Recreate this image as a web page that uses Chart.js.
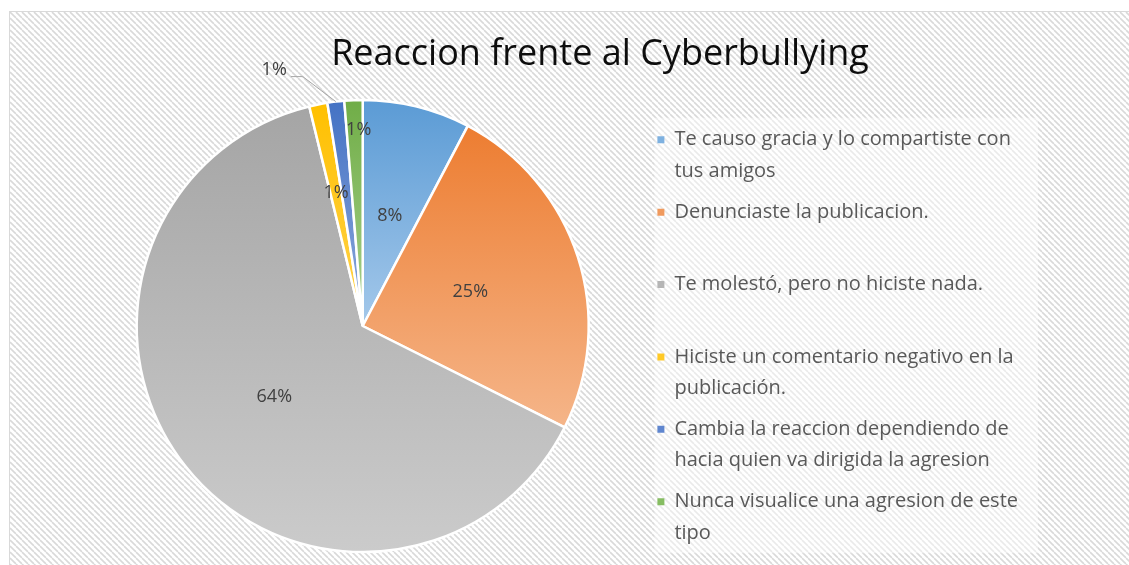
<!DOCTYPE html>
<html>
<head>
<meta charset="utf-8">
<script src="https://cdn.jsdelivr.net/npm/chart.js@4"></script>
<style>
  html, body { margin: 0; padding: 0; background: #fff; overflow: hidden; }
  #wrap { position: absolute; left: 9px; top: 11px; width: 1119px; height: 553px; border: 1px solid #d9d9d9; }
  #chart { display: block; }
</style>
</head>
<body>
<div id="wrap"><canvas id="chart" width="1119" height="553"></canvas></div>
<script>
// datos (porcentajes aproximados)
const categories = [
  "Te causo gracia y lo compartiste con\ntus amigos",
  "Denunciaste la publicacion.",
  "Te molestó, pero no hiciste nada.",
  "Hiciste un comentario negativo en la\npublicación.",
  "Cambia la reaccion dependiendo de\nhacia quien va dirigida la agresion",
  "Nunca visualice una agresion de este\ntipo"
];
const values = [7.7, 24.7, 63.8, 1.3, 1.2, 1.3];
const topColors = ["#5b9bd5", "#ed7d31", "#a5a5a5", "#ffc000", "#4472c4", "#70ad47"];
const bottomColors = ["#a4c8ea", "#f5b589", "#cbcbcb", "#ffd34d", "#8faadc", "#a9d18e"];
const legendColors = ["#7eb1e0", "#f09a5e", "#b5b5b5", "#ffc926", "#5f86cf", "#86bd62"];

// posicion de las etiquetas: fraccion del radio, o "out" para la llamada con linea
const labelPlacement = [0.5, 0.5, 0.5, 0.6, "out", 0.87];

// degradado vertical por porcion (como en Excel)
function sliceGradient(c) {
  const el = c.element;
  const i = c.dataIndex;
  if (!el || !el.outerRadius) return topColors[i];
  const { x, y, startAngle, endAngle, outerRadius } = el;
  let minY = y, maxY = y;
  for (let k = 0; k <= 40; k++) {
    const a = startAngle + (endAngle - startAngle) * k / 40;
    const py = y + Math.sin(a) * outerRadius;
    minY = Math.min(minY, py);
    maxY = Math.max(maxY, py);
  }
  const g = c.chart.ctx.createLinearGradient(0, minY, 0, maxY);
  g.addColorStop(0, topColors[i]);
  g.addColorStop(1, bottomColors[i]);
  return g;
}

const background = {
  id: "background",
  afterLayout(chart) {
    // el titulo de Excel no queda centrado sobre el grafico: se corre a la derecha
    const tb = chart.titleBlock;
    if (tb) {
      const d = 590 - (tb.left + tb.right) / 2;
      tb.left += d;
      tb.right += d;
    }
    // la leyenda empieza un poco mas abajo que el area del pastel
    if (chart.legend) chart.legend.top += 21;
  },
  beforeDraw(chart) {
    const { ctx, width, height } = chart;
    const s = 6;
    const tile = document.createElement("canvas");
    tile.width = s; tile.height = s;
    const t = tile.getContext("2d");
    t.fillStyle = "#ffffff";
    t.fillRect(0, 0, s, s);
    t.strokeStyle = "#d9d9d9";
    t.lineWidth = 1.6;
    for (const k of [-s, 0, s]) {
      t.beginPath();
      t.moveTo(k, 0);
      t.lineTo(k + s, s);
      t.stroke();
    }
    ctx.save();
    ctx.fillStyle = ctx.createPattern(tile, "repeat");
    ctx.fillRect(0, 0, width, height);
    // caja clara detras de la leyenda
    const lg = chart.legend;
    if (lg) {
      ctx.fillStyle = "rgba(255,255,255,0.45)";
      ctx.fillRect(lg.left + 7, lg.top - 2, lg.right - lg.left + 3, chart.chartArea.bottom - lg.top + 2);
    }
    ctx.restore();
  }
};

const pctLabels = {
  id: "pctLabels",
  afterDatasetsDraw(chart) {
    const { ctx } = chart;
    const meta = chart.getDatasetMeta(0);
    const total = values.reduce((a, b) => a + b, 0);
    ctx.save();
    ctx.font = "18px 'Open Sans'";
    ctx.fillStyle = "#404040";
    ctx.textBaseline = "middle";
    meta.data.forEach((arc, i) => {
      const txt = Math.round(values[i] / total * 100) + "%";
      const mid = (arc.startAngle + arc.endAngle) / 2;
      const place = labelPlacement[i];
      if (place === "out") {
        const ex = arc.x + Math.cos(mid) * arc.outerRadius;
        const ey = arc.y + Math.sin(mid) * arc.outerRadius;
        const bx = ex - 33, by = ey - 25;
        ctx.strokeStyle = "#a6a6a6";
        ctx.lineWidth = 1;
        ctx.beginPath();
        ctx.moveTo(ex, ey);
        ctx.lineTo(bx, by);
        ctx.lineTo(bx - 12, by);
        ctx.stroke();
        ctx.textAlign = "right";
        ctx.fillText(txt, bx - 16, by - 7);
      } else {
        const r = arc.outerRadius * place;
        ctx.textAlign = "center";
        ctx.fillText(txt, arc.x + Math.cos(mid) * r + (i === 5 ? 4 : 0), arc.y + Math.sin(mid) * r);
      }
    });
    ctx.restore();
  }
};

const chart = new Chart(document.getElementById("chart"), {
  type: "pie",
  data: {
    labels: categories,
    datasets: [{
      data: values,
      backgroundColor: sliceGradient,
      borderColor: "#ffffff",
      borderWidth: 2.5
    }]
  },
  options: {
    responsive: false,
    animation: false,
    layout: { padding: { left: 68, right: 101, top: 0, bottom: 11.75 } },
    plugins: {
      title: {
        display: true,
        text: "Reaccion frente al Cyberbullying",
        color: "#0d0d0d",
        font: { family: "'Open Sans'", size: 36, weight: "normal" },
        padding: { top: 21.5, bottom: 22.05 }
      },
      legend: {
        position: "right",
        align: "start",
        fullSize: false,
        labels: {
          color: "#595959",
          font: { family: "'Open Sans'", size: 20, lineHeight: 1.56 },
          boxWidth: 7,
          boxHeight: 7,
          padding: 10,
          generateLabels(ch) {
            return ch.data.labels.map((lbl, i) => {
              const lines = lbl.split("\n");
              while (lines.length < 2) lines.push("");
              return {
                text: lines,
                fillStyle: legendColors[i],
                strokeStyle: legendColors[i],
                lineWidth: 0,
                fontColor: "#595959",
                hidden: false,
                index: i
              };
            });
          }
        }
      },
      tooltip: { enabled: false }
    }
  },
  plugins: [background, pctLabels]
});
// segunda pasada para que el degradado use la geometria de cada porcion
chart.update("none");
</script>
</body>
</html>
